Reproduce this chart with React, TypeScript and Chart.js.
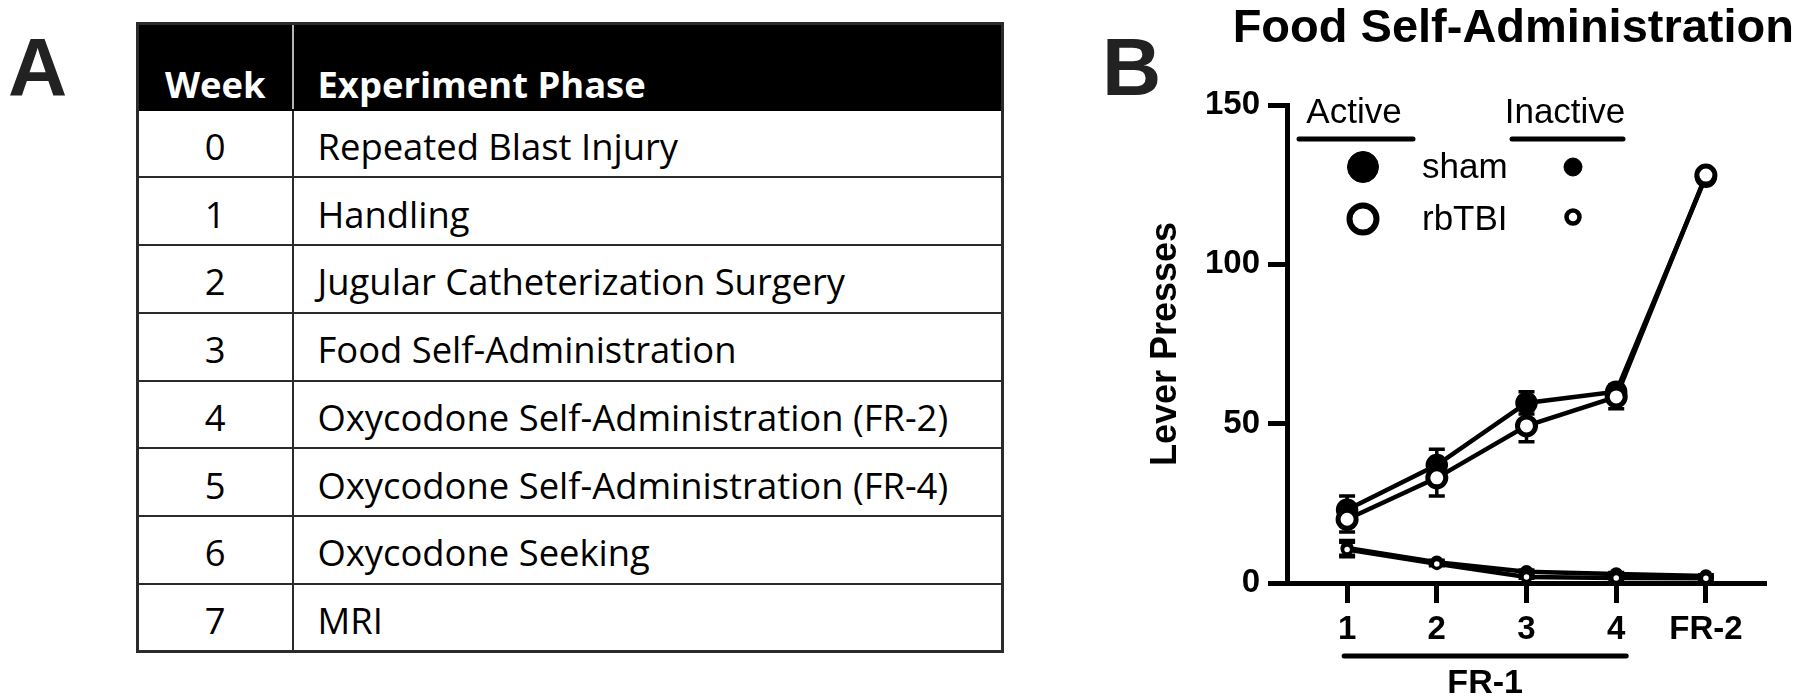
import React, { useEffect, useMemo, useRef } from "react";
import { Chart, registerables } from "chart.js";

Chart.register(...registerables);

// ---------------- data ----------------
const tableHeaders = ["Week", "Experiment Phase"];
const weekNumbers = ["0", "1", "2", "3", "4", "5", "6", "7"];
const experimentPhases = [
  "Repeated Blast Injury",
  "Handling",
  "Jugular Catheterization Surgery",
  "Food Self-Administration",
  "Oxycodone Self-Administration (FR-2)",
  "Oxycodone Self-Administration (FR-4)",
  "Oxycodone Seeking",
  "MRI",
];

const chartTitle = "Food Self-Administration";
const yAxisTitle = "Lever Presses";
const sessionPositions = [1, 2, 3, 4, 5];
const sessionLabels = ["1", "2", "3", "4", "FR-2"];
const bracketSessions = [1, 4];
const bracketLabel = "FR-1";
const yTickValues = [0, 50, 100, 150];
const leverLabels = ["Active", "Inactive"];
const groupLabels = ["sham", "rbTBI"];

const activeSham = [23, 37, 56.5, 60, 127.5];
const activeShamSem = [4.3, 5, 3.5, 2, 2];
const activeTbi = [20, 33, 49.3, 58.4, 128];
const activeTbiSem = [4, 5.7, 5, 3.7, 2];
const inactiveSham = [11, 6.5, 3.5, 2.8, 2.2];
const inactiveShamSem = [2.3, 0.6, 0.6, 0.5, 0.4];
const inactiveTbi = [10.5, 6, 1.9, 1.6, 1.5];
const inactiveTbiSem = [2.3, 0.6, 0.4, 0.4, 0.3];

// ---------------- styles ----------------
const FONT = "'Liberation Sans', Arial, Helvetica, sans-serif";
const TABLE_FONT = "'Open Sans', 'Noto Sans', sans-serif";

function toPoints(values: number[]) {
  return sessionPositions.map((x, i) => ({ x, y: values[i] }));
}

function drawMarker(ctx: CanvasRenderingContext2D, x: number, y: number, r: number, bw: number, filled: boolean) {
  ctx.save();
  ctx.beginPath();
  ctx.arc(x, y, r, 0, Math.PI * 2);
  ctx.fillStyle = filled ? "#000" : "#fff";
  ctx.fill();
  ctx.lineWidth = bw;
  ctx.strokeStyle = "#000";
  ctx.stroke();
  ctx.restore();
}

const errorBarPlugin = {
  id: "errorBars",
  beforeDatasetsDraw(chart: any) {
    const { ctx, scales } = chart;
    const xs = scales.x;
    const ys = scales.y;
    ctx.save();
    ctx.strokeStyle = "#000";
    ctx.lineWidth = 3.5;
    chart.data.datasets.forEach((ds: any) => {
      const sem: number[] = ds.sem || [];
      ds.data.forEach((p: any, j: number) => {
        const e = sem[j];
        if (!e) return;
        const px = xs.getPixelForValue(p.x);
        const lo = ys.getPixelForValue(p.y - e);
        const hi = ys.getPixelForValue(p.y + e);
        ctx.beginPath();
        ctx.moveTo(px, lo);
        ctx.lineTo(px, hi);
        ctx.moveTo(px - 8, lo);
        ctx.lineTo(px + 8, lo);
        ctx.moveTo(px - 8, hi);
        ctx.lineTo(px + 8, hi);
        ctx.stroke();
      });
    });
    ctx.restore();
  },
};

const annotationPlugin = {
  id: "annotations",
  afterDraw(chart: any) {
    const { ctx, chartArea: a, scales } = chart;
    const xs = scales.x;
    ctx.save();
    ctx.fillStyle = "#000";
    ctx.strokeStyle = "#000";

    // title
    ctx.font = `bold 47px ${FONT}`;
    ctx.textAlign = "right";
    ctx.textBaseline = "alphabetic";
    ctx.fillText(chartTitle, chart.width - 6, 42);

    // legend headers
    ctx.font = `35px ${FONT}`;
    ctx.textAlign = "center";
    const headX = [a.left + 67, a.left + 278];
    const spans = [
      [a.left + 12, a.left + 126],
      [a.left + 225, a.left + 336],
    ];
    leverLabels.forEach((lab, i) => {
      ctx.fillText(lab, headX[i], a.top + 18);
      ctx.lineWidth = 5;
      ctx.lineCap = "round";
      ctx.beginPath();
      ctx.moveTo(spans[i][0], a.top + 34);
      ctx.lineTo(spans[i][1], a.top + 34);
      ctx.stroke();
    });

    // legend rows
    const colX = [a.left + 76, a.left + 286];
    const rowY = [a.top + 62, a.top + 114];
    const textBase = [a.top + 73, a.top + 125];
    ctx.textAlign = "left";
    groupLabels.forEach((lab, r) => ctx.fillText(lab, a.left + 135, textBase[r]));
    drawMarker(ctx, colX[0], rowY[0], 15.5, 1, true);
    drawMarker(ctx, colX[0], rowY[1], 13.5, 6, false);
    drawMarker(ctx, colX[1], rowY[0], 9, 1, true);
    drawMarker(ctx, colX[1], rowY[1] - 2, 6.5, 4.5, false);

    // FR-1 bracket
    const x1 = xs.getPixelForValue(bracketSessions[0]) - 3;
    const x2 = xs.getPixelForValue(bracketSessions[1]) + 10;
    ctx.lineWidth = 5;
    ctx.lineCap = "round";
    ctx.beginPath();
    ctx.moveTo(x1, a.bottom + 73);
    ctx.lineTo(x2, a.bottom + 73);
    ctx.stroke();
    ctx.font = `bold 34px ${FONT}`;
    ctx.textAlign = "center";
    ctx.fillText(bracketLabel, (x1 + x2) / 2, a.bottom + 110);
    ctx.restore();
  },
};

function lineDataset(label: string, values: number[], sem: number[], radius: number, bw: number, filled: boolean) {
  return {
    label,
    data: toPoints(values),
    sem,
    borderColor: "#000",
    borderWidth: 4.5,
    pointRadius: radius,
    pointHoverRadius: radius,
    pointBorderWidth: bw,
    pointBackgroundColor: filled ? "#000" : "#fff",
    pointBorderColor: "#000",
    tension: 0,
    clip: false,
  } as any;
}

export default function App() {
  const canvasRef = useRef<HTMLCanvasElement>(null);

  const tableFontSize = useMemo(() => {
    const c = document.createElement("canvas").getContext("2d");
    if (!c) return 34;
    c.font = `100px ${TABLE_FONT}`;
    const w = c.measureText(experimentPhases[4]).width;
    return w > 0 ? (100 * 631) / w : 34;
  }, []);

  useEffect(() => {
    const canvas = canvasRef.current;
    if (!canvas) return;
    const tickFont = { family: FONT, size: 33, weight: "bold" as const };
    const chart = new Chart(canvas, {
      type: "line",
      data: {
        datasets: [
          lineDataset("Active rbTBI", activeTbi, activeTbiSem, 9, 5, false),
          lineDataset("Active sham", activeSham, activeShamSem, 10.5, 1.5, true),
          lineDataset("Inactive rbTBI", inactiveTbi, inactiveTbiSem, 4.5, 3.5, false),
          lineDataset("Inactive sham", inactiveSham, inactiveShamSem, 6, 1.5, true),
        ],
      },
      options: {
        responsive: false,
        animation: false,
        devicePixelRatio: 1,
        layout: { padding: { left: 0, top: 105, right: 34, bottom: 0 } },
        plugins: {
          legend: { display: false },
          tooltip: { enabled: false },
          title: { display: false },
        },
        scales: {
          x: {
            type: "linear",
            min: 0.33,
            max: 5.67,
            afterBuildTicks: (s: any) => {
              s.ticks = sessionPositions.map((v) => ({ value: v }));
            },
            afterFit: (s: any) => {
              s.height = 117;
            },
            grid: {
              display: true,
              drawOnChartArea: false,
              drawTicks: true,
              tickLength: 20,
              tickWidth: 5,
              tickColor: "#000",
            },
            border: { display: true, width: 5, color: "#000" },
            ticks: {
              autoSkip: false,
              maxRotation: 0,
              padding: 7,
              color: "#000",
              font: tickFont,
              callback: (v: any) => {
                const i = sessionPositions.indexOf(Number(v));
                return i >= 0 ? sessionLabels[i] : "";
              },
            },
          },
          y: {
            type: "linear",
            min: 0,
            max: 150,
            afterBuildTicks: (s: any) => {
              s.ticks = yTickValues.map((v) => ({ value: v }));
            },
            afterFit: (s: any) => {
              s.width = 187;
            },
            grid: {
              display: true,
              drawOnChartArea: false,
              drawTicks: true,
              tickLength: 19,
              tickWidth: 5,
              tickColor: "#000",
            },
            border: { display: true, width: 5, color: "#000" },
            ticks: { padding: 8, color: "#000", font: tickFont },
            title: {
              display: true,
              text: yAxisTitle,
              color: "#000",
              font: { family: FONT, size: 36, weight: "bold" },
              padding: { top: 44, bottom: 0 },
            },
          },
        },
      } as any,
      plugins: [errorBarPlugin, annotationPlugin],
    });
    return () => chart.destroy();
  }, []);

  const border = "2px solid #2b2b2b";
  const panelLabel: React.CSSProperties = {
    position: "absolute",
    top: 26,
    fontFamily: FONT,
    fontWeight: 700,
    fontSize: 82,
    lineHeight: "82px",
    color: "#222",
  };

  return (
    <div
      style={{
        position: "absolute",
        left: 0,
        top: 0,
        width: 1800,
        height: 700,
        overflow: "hidden",
        background: "#fff",
      }}
    >
      <div style={{ ...panelLabel, left: 8 }}>A</div>
      <table
        style={{
          position: "absolute",
          left: 136,
          top: 22,
          width: 868,
          borderCollapse: "collapse",
          tableLayout: "fixed",
          fontFamily: TABLE_FONT,
          fontSize: tableFontSize,
          color: "#000",
          border: "3px solid #2b2b2b",
        }}
      >
        <colgroup>
          <col style={{ width: 155 }} />
          <col />
        </colgroup>
        <thead>
          <tr style={{ height: 86 }}>
            {tableHeaders.map((h, i) => (
              <th
                key={h}
                style={{
                  background: "#000",
                  color: "#fff",
                  fontWeight: 700,
                  borderTop: "2px solid #000",
                  borderBottom: "2px solid #000",
                  borderLeft: i === 0 ? "2px solid #000" : "2px solid #b5b5b5",
                  borderRight: i === 0 ? "2px solid #b5b5b5" : "2px solid #000",
                  verticalAlign: "bottom",
                  textAlign: i === 0 ? "center" : "left",
                  padding: i === 0 ? "0 0 0 0" : "0 0 0 24px",
                  whiteSpace: "nowrap",
                }}
              >
                {h}
              </th>
            ))}
          </tr>
        </thead>
        <tbody>
          {weekNumbers.map((w, i) => (
            <tr key={w} style={{ height: 67.75 }}>
              <td
                style={{
                  border,
                  textAlign: "center",
                  verticalAlign: "middle",
                  padding: "5px 0 0 0",
                }}
              >
                {w}
              </td>
              <td
                style={{
                  border,
                  textAlign: "left",
                  verticalAlign: "middle",
                  padding: "5px 0 0 24px",
                  whiteSpace: "nowrap",
                }}
              >
                {experimentPhases[i]}
              </td>
            </tr>
          ))}
        </tbody>
      </table>
      <div style={{ ...panelLabel, left: 1102 }}>B</div>
      <canvas
        ref={canvasRef}
        width={700}
        height={700}
        style={{ position: "absolute", left: 1100, top: 0, width: 700, height: 700 }}
      />
    </div>
  );
}
